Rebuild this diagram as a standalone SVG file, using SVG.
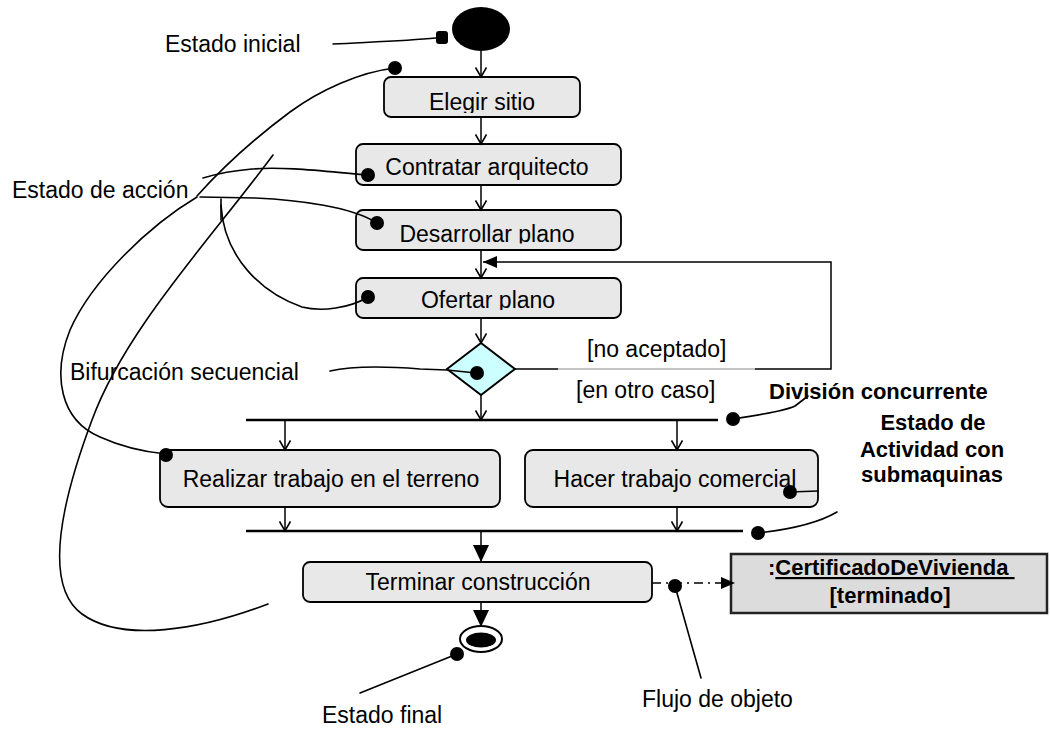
<svg xmlns="http://www.w3.org/2000/svg" width="1050" height="729" viewBox="0 0 1050 729">
<style>
.box{fill:#E8E8E8;stroke:#000;stroke-width:1.8}
.t{font-family:"Liberation Sans",Arial,sans-serif;font-size:23px;fill:#000}
.tm{font-family:"Liberation Sans",Arial,sans-serif;font-size:23px;fill:#000;text-anchor:middle}
.b{font-family:"Liberation Sans",Arial,sans-serif;font-size:22px;font-weight:bold;fill:#000}
.flow{stroke:#000;stroke-width:1.5;fill:none}
.lead{stroke:#000;stroke-width:1.6;fill:none;stroke-linecap:round;stroke-linejoin:round}
.bar{stroke:#000;stroke-width:2.5}
.dot{fill:#000}
</style>
<defs>
<marker id="open" markerUnits="userSpaceOnUse" markerWidth="12" markerHeight="12" viewBox="0 0 12 12" refX="10.5" refY="6" orient="auto">
<path d="M1,0.5 L10.5,6 L1,11.5" fill="none" stroke="#000" stroke-width="1.6"/>
</marker>
<marker id="tri" markerUnits="userSpaceOnUse" markerWidth="17" markerHeight="16" viewBox="0 0 17 16" refX="17" refY="8" orient="auto">
<path d="M0,0 L17,8 L0,16 Z" fill="#000"/>
</marker>
<marker id="tris" markerUnits="userSpaceOnUse" markerWidth="14" markerHeight="12" viewBox="0 0 14 12" refX="14" refY="6" orient="auto">
<path d="M0,0 L14,6 L0,12 Z" fill="#000"/>
</marker>
<clipPath id="cElegir"><rect x="384" y="77" width="196" height="36"/></clipPath>
<clipPath id="cDesarrollar"><rect x="356" y="210" width="265" height="33.5"/></clipPath>
<clipPath id="cOfertar"><rect x="356" y="278" width="265" height="32"/></clipPath>
</defs>
<rect width="1050" height="729" fill="#fff"/>

<g id="initial">
<ellipse cx="481" cy="29" rx="29" ry="22" fill="#000"/>
</g>
<g id="elegir">
<rect class="box" x="384" y="77" width="196" height="40" rx="7"/>
<text class="tm" x="482" y="110" clip-path="url(#cElegir)">Elegir sitio</text>
</g>
<g id="contratar">
<rect class="box" x="356" y="144" width="265" height="41" rx="7"/>
<text class="tm" x="487" y="175">Contratar arquitecto</text>
</g>
<g id="desarrollar">
<rect class="box" x="356" y="210" width="265" height="40" rx="7"/>
<text class="tm" x="487" y="242" clip-path="url(#cDesarrollar)">Desarrollar plano</text>
</g>
<g id="ofertar">
<rect class="box" x="356" y="278" width="265" height="40" rx="7"/>
<text class="tm" x="488" y="308" clip-path="url(#cOfertar)">Ofertar plano</text>
</g>
<g id="decision">
<polygon points="447,369 481,343 515,369 481,395" fill="#CCFFFF" stroke="#000" stroke-width="2"/>
</g>
<g id="fork">
<line class="bar" x1="246" y1="420" x2="718" y2="420"/>
</g>
<g id="realizar">
<rect class="box" x="160" y="450" width="340" height="57" rx="8"/>
<text class="tm" x="331" y="487">Realizar trabajo en el terreno</text>
</g>
<g id="hacer">
<rect class="box" x="525" y="450" width="293" height="57" rx="8"/>
<text class="tm" x="675" y="487">Hacer trabajo comercial</text>
</g>
<g id="join">
<line class="bar" x1="246" y1="531" x2="743" y2="531"/>
</g>
<g id="terminar">
<rect class="box" x="303" y="562" width="349" height="40" rx="7"/>
<text class="tm" x="478" y="590">Terminar construcción</text>
</g>
<g id="final">
<ellipse cx="481" cy="639" rx="21" ry="13" fill="#fff" stroke="#000" stroke-width="2"/>
<ellipse cx="481" cy="640" rx="15" ry="7.5" fill="#000"/>
</g>
<g id="certificado">
<rect x="731" y="554" width="316" height="59" fill="#DCDCDC" stroke="#222" stroke-width="2.5"/>
<text class="b" x="768" y="575" xml:space="preserve">:<tspan text-decoration="underline">CertificadoDeVivienda </tspan></text>
<text class="b" x="890" y="603" text-anchor="middle">[terminado]</text>
</g>

<g id="connectors">
<path class="flow" d="M481,51 V77" marker-end="url(#open)"/>
<path class="flow" d="M481,117 V144" marker-end="url(#open)"/>
<path class="flow" d="M481,185 V210" marker-end="url(#open)"/>
<path class="flow" d="M481,250 V278" marker-end="url(#open)"/>
<path class="flow" d="M481,318 V343" marker-end="url(#open)"/>
<path class="flow" d="M481,395 V420" marker-end="url(#open)"/>
<path class="flow" d="M285,420 V450" marker-end="url(#open)"/>
<path class="flow" d="M677,420 V450" marker-end="url(#open)"/>
<path class="flow" d="M285,507 V531" marker-end="url(#open)"/>
<path class="flow" d="M677,507 V531" marker-end="url(#open)"/>
<path class="flow" d="M481,531 V562" marker-end="url(#tri)"/>
<path class="flow" d="M481,602 V627" marker-end="url(#tri)"/>
<path class="flow" d="M515,369 H558"/>
<path d="M558,369 H755" stroke="#888" stroke-width="1" fill="none"/>
<path class="flow" d="M755,369 H831 V262 H483" marker-end="url(#tris)"/>
<path class="flow" d="M652,583 H735" stroke-dasharray="9 5 2 5" marker-end="url(#tris)"/>
</g>

<g id="labels">
<text class="t" x="165" y="52">Estado inicial</text>
<text class="t" x="12" y="198">Estado de acción</text>
<text class="t" x="70" y="380">Bifurcación secuencial</text>
<text class="t" x="587" y="357">[no aceptado]</text>
<text class="t" x="576" y="398">[en otro caso]</text>
<text class="b" x="769" y="399">División concurrente</text>
<text class="b" x="933" y="430" text-anchor="middle">Estado de</text>
<text class="b" x="932" y="457" text-anchor="middle">Actividad con</text>
<text class="b" x="932" y="482" text-anchor="middle">submaquinas</text>
<text class="t" x="322" y="723">Estado final</text>
<text class="t" x="642" y="707">Flujo de objeto</text>
</g>

<g id="leaders">
<path class="lead" d="M333,44 C370,42 405,41 436,38"/>
<rect x="436" y="31" width="12" height="13" rx="3" class="dot"/>
<path class="lead" d="M395,68 C360,72 320,90 290,112 C255,138 222,168 197,196"/>
<circle class="dot" cx="395" cy="68" r="7"/>
<path class="lead" d="M368,175 C330,172 285,166 252,169 C228,171 213,175 203,178"/>
<circle class="dot" cx="368" cy="175" r="7"/>
<path class="lead" d="M377,223 C352,207 300,200 255,198 L200,197"/>
<circle class="dot" cx="377" cy="223" r="7"/>
<path class="lead" d="M368,297 C350,308 322,312 302,307 C262,293 224,258 221,205"/>
<path class="lead" d="M221,199 V220"/>
<circle class="dot" cx="368" cy="297" r="7"/>
<path class="lead" d="M197,197 C150,225 92,280 70,330 C52,375 60,420 100,437 C122,447 145,452 166,454"/>
<circle class="dot" cx="166" cy="455" r="7"/>
<path class="lead" d="M273,155 C210,240 125,330 92,420 C62,500 42,585 82,614 C122,643 200,630 268,604"/>
<path class="lead" d="M330,371 C352,366 382,366 420,369 L447,370 L476,373"/>
<circle class="dot" cx="477" cy="373" r="7"/>
<path class="lead" d="M733,419 C760,415 785,411 795,406 L808,396"/>
<circle class="dot" cx="733" cy="419" r="7"/>
<path class="lead" d="M790,492 L818,491"/>
<circle class="dot" cx="790" cy="492" r="7"/>
<path class="lead" d="M758,533 C785,530 815,525 837,512"/>
<circle class="dot" cx="758" cy="533" r="7"/>
<path class="lead" d="M675,586 L701,678"/>
<circle class="dot" cx="675" cy="586" r="7"/>
<path class="lead" d="M457,654 L360,693"/>
<circle class="dot" cx="457" cy="654" r="7"/>
</g>
</svg>
